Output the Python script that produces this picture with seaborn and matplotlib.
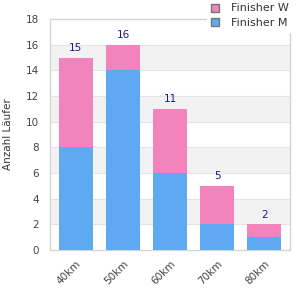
import matplotlib
matplotlib.use("Agg")
import matplotlib.pyplot as plt
import seaborn as sns
import pandas as pd
from matplotlib.patches import Patch

# data
distances = ["40km", "50km", "60km", "70km", "80km"]
finisher_m = [8, 14, 6, 2, 1]
finisher_w = [7, 2, 5, 3, 1]
totals = [m + w for m, w in zip(finisher_m, finisher_w)]

pink = "#F283BC"
blue = "#5FA8F2"

df = pd.DataFrame({"dist": distances, "m": finisher_m, "total": totals})

sns.set_style("white")
fig = plt.figure(figsize=(3, 3), dpi=100)
ax = fig.add_axes([50 / 300, 50 / 300, 240 / 300, 231 / 300])

# alternating background bands
for lo in range(2, 18, 4):
    ax.axhspan(lo, lo + 2, color="#F2F2F2", zorder=0)
for y in range(2, 18, 2):
    ax.axhline(y, color="#E4E4E4", lw=0.7, zorder=0.5)

sns.barplot(data=df, x="dist", y="total", color=pink, width=0.73,
            saturation=1, ax=ax, zorder=2, linewidth=0, edgecolor="none")
sns.barplot(data=df, x="dist", y="m", color=blue, width=0.73,
            saturation=1, ax=ax, zorder=3, linewidth=0, edgecolor="none")

for i, t in enumerate(totals):
    ax.text(i, t + 0.35, str(t), ha="center", va="bottom", fontsize=7.5,
            color="#1A1A8C", zorder=4)

ax.set_ylim(0, 18)
ax.set_xlim(-0.55, 4.55)
ax.set_yticks(range(0, 19, 2))
ax.set_xlabel("")
ax.set_ylabel("Anzahl Läufer", fontsize=7.5, color="#333333", labelpad=9)
ax.tick_params(axis="y", length=0, labelsize=7.5, labelcolor="#444444", pad=8)
ax.tick_params(axis="x", length=0, labelsize=7.5, labelcolor="#444444", pad=6)
plt.setp(ax.get_xticklabels(), rotation=45, ha="right", rotation_mode="anchor")

for s in ax.spines.values():
    s.set_color("#D5D5D5")
    s.set_linewidth(1)

handles = [Patch(facecolor=pink, edgecolor="#777777", label="Finisher W"),
           Patch(facecolor=blue, edgecolor="#777777", label="Finisher M")]
leg = fig.legend(handles=handles, loc="upper right", bbox_to_anchor=(0.995, 1.02),
                 frameon=True, fontsize=8, handlelength=0.75, handleheight=0.75,
                 labelspacing=0.4, borderpad=0.35, handletextpad=1.1)
leg.get_frame().set_facecolor("white")
leg.get_frame().set_edgecolor("white")
leg.get_frame().set_alpha(1)
for t in leg.get_texts():
    t.set_color("#333333")

fig.savefig("out.png", dpi=100)
